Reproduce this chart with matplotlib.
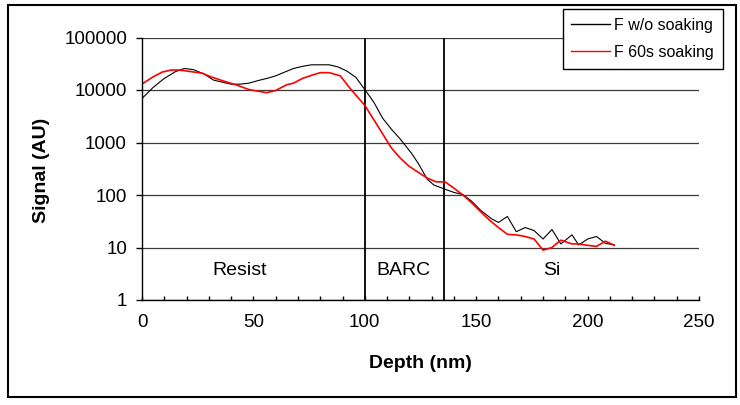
import matplotlib
matplotlib.use("Agg")
import matplotlib.pyplot as plt
from matplotlib.patches import Rectangle
from matplotlib.ticker import MultipleLocator, NullLocator

plt.rcParams['font.family'] = ['Liberation Sans', 'DejaVu Sans']

# depth profile, no soaking
depth_dry = [0, 5, 10, 15, 19, 23, 28, 32, 36, 40, 44, 48, 52, 56, 60, 64, 68,
             72, 76, 80, 84, 88, 92, 96, 100, 104, 108, 112, 116, 121, 124, 128,
             131, 136, 140, 144, 148, 152, 157, 160, 164, 168, 172, 176, 180,
             184, 188, 193, 196, 200, 204, 208, 212]
signal_dry = [6900, 11200, 16600, 22400, 25700, 24500, 20000, 15500, 14100,
              12900, 12900, 13500, 15100, 16600, 18600, 21900, 25700, 28200,
              30200, 30200, 30200, 27500, 22900, 17400, 10200, 5900, 2900, 1780,
              1150, 620, 400, 200, 155, 129, 112, 102, 76, 51, 35, 30, 39, 20,
              24, 21, 14.5, 22, 11.7, 17.4, 11.2, 14.5, 16.2, 12, 11.2]

# depth profile, 60 s soaking
depth_soak = [0, 5, 9, 13, 17, 22, 27, 31, 36, 42, 48, 52, 56, 60, 65, 68, 72,
              76, 80, 84, 89, 94, 100, 106, 112, 116, 120, 124, 128, 132, 136,
              140, 144, 148, 152, 156, 160, 164, 168, 172, 176, 180, 184, 188,
              193, 196, 200, 204, 208, 212]
signal_soak = [13000, 17800, 21900, 24000, 24000, 22400, 20900, 17800, 15100,
               12600, 10200, 9500, 8900, 9800, 12600, 13500, 16600, 19000,
               21400, 21400, 18600, 10000, 5100, 2000, 780, 500, 350, 270, 210,
               178, 178, 135, 100, 71, 48, 33, 24, 17.8, 17.4, 16.2, 14.5, 8.9,
               10, 13.8, 11.7, 11.7, 11, 10.5, 13.2, 11]

layer_edges = [100, 135.4]
layer_names = ["Resist", "BARC", "Si"]
layer_label_x = [44, 117.5, 184]
layer_label_y = 3.7

y_ticks = [1, 10, 100, 1000, 10000, 100000]

fig = plt.figure(figsize=(7.40, 4.05), dpi=100)
ax = fig.add_axes([142 / 740, 1 - 300 / 405, 557 / 740, 262.5 / 405])

ax.plot(depth_dry, signal_dry, color="black", lw=0.8, label="F w/o soaking")
ax.plot(depth_soak, signal_soak, color="#ff0000", lw=1.2, label="F 60s soaking")

for xe in layer_edges:
    ax.axvline(xe, color="black", lw=1.3, zorder=1)
for name, xl in zip(layer_names, layer_label_x):
    ax.text(xl, layer_label_y, name, ha="center", va="center", fontsize=14)

ax.set_yscale("log")
ax.set_ylim(1, 100000)
ax.set_xlim(0, 250)
ax.set_yticks(y_ticks)
ax.set_yticklabels([str(t) for t in y_ticks])
ax.yaxis.set_minor_locator(NullLocator())
ax.xaxis.set_major_locator(MultipleLocator(50))
ax.xaxis.set_minor_locator(MultipleLocator(10))

ax.grid(True, axis="y", which="major", color="#3a3a3a", lw=0.9)
ax.set_axisbelow(True)
ax.spines["right"].set_visible(False)
ax.spines["top"].set_visible(False)
for s in ("left", "bottom"):
    ax.spines[s].set_color("black")
    ax.spines[s].set_linewidth(1.0)

ax.tick_params(axis="y", which="major", direction="out", length=4.3, width=1,
               pad=6.5, labelsize=13.5)
ax.tick_params(axis="x", which="both", direction="in", length=3, width=1,
               pad=10, labelsize=13.5)

fig.text(42 / 740, 1 - 170 / 405, "Signal (AU)", rotation=90, ha="center",
         va="center", fontsize=14, fontweight="bold")
fig.text(420 / 740, 1 - 363 / 405, "Depth (nm)", ha="center", va="center",
         fontsize=14, fontweight="bold")

leg = fig.legend(loc="upper right", bbox_to_anchor=(723 / 740, 1 - 9 / 405),
                 borderaxespad=0, fancybox=False, framealpha=1,
                 edgecolor="black", fontsize=11.5, handlelength=2.4,
                 handletextpad=0.3, borderpad=0.55, labelspacing=0.75)
leg.get_frame().set_linewidth(1.0)
for h in leg.legend_handles:
    h.set_linewidth(1.0)

# outer border around the whole chart
fig.patches.append(Rectangle((8 / 740, 1 - 397 / 405), 728 / 740, 392 / 405,
                             transform=fig.transFigure, fill=False,
                             edgecolor="black", lw=1.5))

fig.savefig("out.png", dpi=100)
